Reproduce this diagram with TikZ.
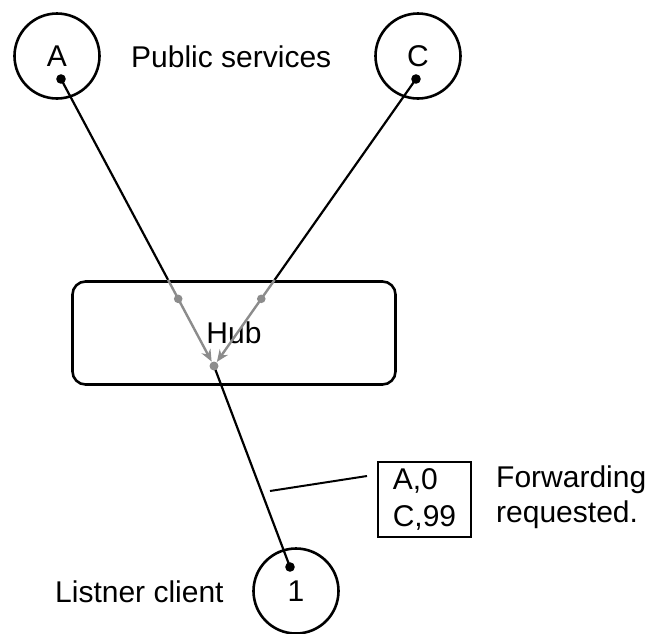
\documentclass[tikz,border=0pt]{standalone}
\usepackage{fontspec}
\setmainfont{Liberation Sans}
\usetikzlibrary{arrows.meta,calc}
\definecolor{hubgrey}{HTML}{8C8C8C}
\begin{document}
\begin{tikzpicture}[x=1pt,y=-1pt,
  every node/.style={font=\fontsize{30}{37}\selectfont},
  svc/.style={draw, circle, line width=2.6pt, minimum size=85pt, inner sep=0pt},
  hubbox/.style={draw, rectangle, rounded corners=13pt, line width=2.6pt, minimum width=323pt, minimum height=103pt, inner sep=0pt},
  lblbox/.style={draw, rectangle, line width=1.8pt, minimum width=93pt, minimum height=75pt, align=left, inner sep=0pt},
  plain/.style={inner sep=0pt},
  conn/.style={line width=2.2pt, black},
  gconn/.style={line width=2.4pt, hubgrey},
  garrow/.style={gconn, -{Stealth[length=12pt,width=10pt]}, shorten >=5pt},
  leader/.style={line width=2pt, black},
  bdot/.style={fill=black},
  gdot/.style={fill=hubgrey}]
\useasboundingbox (0,0) rectangle (649,633);

% nodes
\node[svc] (A) at (57,56) {A};
\node[svc] (C) at (418,56) {C};
\node[svc] (one) at (296,591) {1};
\node[hubbox] (hub) at (234,333) {Hub};
\node[lblbox] (lbl) at (424.5,499.5) {A,0\\C,99};
\node[plain, anchor=base west] (pub) at (131,67) {Public services};
\node[plain, anchor=base west] (lst) at (55,602) {Listner client};
\node[plain, anchor=base west, align=left, font=\fontsize{30}{35}\selectfont] (fwd) at (496,522) {Forwarding\\requested.};

% points
\coordinate (dA) at (61,79);
\coordinate (dC) at (416,79);
\coordinate (d1) at (290,567);
\coordinate (m) at (214,366);
\coordinate (pA) at ($(dA)!0.7!(m)$);
\coordinate (pC) at ($(dC)!0.7!(m)$);
\coordinate (gA) at ($(dA)!0.766!(m)$);
\coordinate (gC) at ($(dC)!0.766!(m)$);
\coordinate (l1) at (270,491);
\coordinate (l2) at (367,476);

% connectors
\draw[conn] (dA) -- (pA);
\draw[conn] (dC) -- (pC);
\draw[garrow] (pA) -- (m);
\draw[garrow] (pC) -- (m);
\draw[conn] (m) -- (d1);
\draw[leader] (l1) -- (l2);

% dots
\fill[bdot] (dA) circle (4.8pt);
\fill[bdot] (dC) circle (4.8pt);
\fill[bdot] (d1) circle (4.8pt);
\fill[gdot] (gA) circle (4.3pt);
\fill[gdot] (gC) circle (4.3pt);
\fill[gdot] (m) circle (4.5pt);
\end{tikzpicture}
\end{document}
